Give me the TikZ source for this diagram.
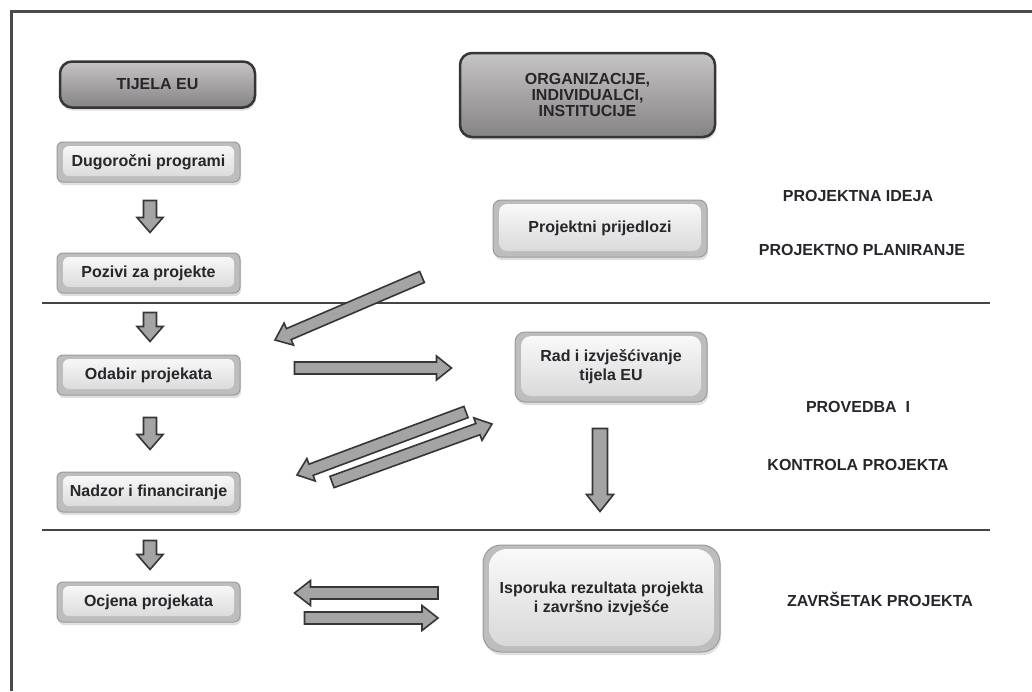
\documentclass[tikz,border=0pt]{standalone}
\usepackage{fontspec}
\setmainfont{Liberation Sans}
\usetikzlibrary{calc,shadows}
\definecolor{txt}{HTML}{28252B}
\definecolor{framec}{HTML}{4A4A4A}
\definecolor{arrfill}{HTML}{A4A4A4}
\definecolor{arrdraw}{HTML}{363636}
\definecolor{hdtop}{HTML}{C6C4C4}
\definecolor{hdbot}{HTML}{858383}
\definecolor{lbdraw}{HTML}{9A9A9A}
\definecolor{lbfill}{HTML}{BDBDBD}
\definecolor{lbtop}{HTML}{FBFBFB}
\definecolor{lbbot}{HTML}{D6D6D6}
\definecolor{divc}{HTML}{444444}
\newcommand\blockarr[5]{%
  \coordinate (bah) at ($(#2)!#5!(#1)$);
  \draw[blockarrow] ($(#1)!#3!90:(#2)$) -- ($(bah)!#3!90:(#2)$) -- ($(bah)!#4!90:(#2)$) -- (#2)
    -- ($(bah)!#4!-90:(#2)$) -- ($(bah)!#3!-90:(#2)$) -- ($(#1)!#3!-90:(#2)$) -- cycle;}
\begin{document}
\begin{tikzpicture}[x=1pt,y=-1pt,
  txtfont/.style={font=\fontsize{16}{16}\selectfont\bfseries, text=txt},
  header/.style={txtfont, align=center, rounded corners=12pt, draw=arrdraw, line width=2.5pt,
    top color=hdtop, bottom color=hdbot, inner sep=0pt,
    drop shadow={shadow xshift=1pt, shadow yshift=-3pt, opacity=0.25, fill=gray}},
  lightbox/.style={txtfont, align=center, rounded corners=#1, draw=lbdraw, line width=1pt,
    fill=lbfill, inner sep=0pt,
    drop shadow={shadow xshift=1pt, shadow yshift=-3pt, opacity=0.25, fill=gray},
    path picture={\fill[rounded corners=#1, top color=lbtop, bottom color=lbbot]
      ([shift={(6pt,-4pt)}]path picture bounding box.north west) rectangle
      ([shift={(-6pt,6pt)}]path picture bounding box.south east);}},
  lightbox/.default=6pt,
  phase/.style={txtfont, inner sep=0pt},
  blockarrow/.style={fill=arrfill, draw=arrdraw, line width=1.6pt, line join=miter},
  frameline/.style={draw=framec, line width=3pt},
  divider/.style={draw=divc, line width=2pt}]
\useasboundingbox (0,0) rectangle (1032,691);
\fill[white] (0,0) rectangle (1032,691);
% frame
\draw[frameline] (11,691) -- (11,11) -- (1032,11);
% dividers
\coordinate (d1a) at (42,303); \coordinate (d1b) at (990,303);
\coordinate (d2a) at (42,530); \coordinate (d2b) at (990,530);
\draw[divider] (d1a) -- (d1b);
\draw[divider] (d2a) -- (d2b);
% header boxes
\node[header, minimum width=195, minimum height=46] (tijela) at (157.5,84.5) {TIJELA EU};
\node[header, minimum width=255, minimum height=84] (org) at (587.5,95)
  {ORGANIZACIJE,\\INDIVIDUALCI,\\INSTITUCIJE};
% left column
\node[lightbox, minimum width=183, minimum height=40] (dug) at (148.5,162) {Dugoročni programi};
\node[lightbox, minimum width=183, minimum height=40] (poz) at (148.5,273) {Pozivi za projekte};
\node[lightbox, minimum width=183, minimum height=40] (odb) at (148.5,375) {Odabir projekata};
\node[lightbox, minimum width=183, minimum height=40] (nad) at (148.5,492) {Nadzor i financiranje};
\node[lightbox, minimum width=183, minimum height=40] (ocj) at (148.5,602) {Ocjena projekata};
% right column
\node[lightbox=8pt, minimum width=214, minimum height=57] (prij) at (600,228.5) {Projektni prijedlozi};
\node[lightbox=10pt, minimum width=192, minimum height=70, font=\fontsize{16}{19}\selectfont\bfseries]
  (rad) at (611,367) {Rad i izvješćivanje\\tijela EU};
\node[lightbox=18pt, minimum width=237, minimum height=107, font=\fontsize{16}{19}\selectfont\bfseries]
  (isp) at (601.5,598.5) {Isporuka rezultata projekta\\i završno izvješće};
% phase labels
\node[phase] (ideja) at (858,196) {PROJEKTNA IDEJA};
\node[phase] (plan) at (862,250) {PROJEKTNO PLANIRANJE};
\node[phase] (prov) at (858,407) {PROVEDBA\ \ I};
\node[phase] (kontr) at (858,465) {KONTROLA PROJEKTA};
\node[phase] (zav) at (880,599) {ZAVRŠETAK PROJEKTA};
% arrow end points
\coordinate (a1s) at ($(dug.south)+(1.5,18)$);  \coordinate (a1e) at ($(poz.north)+(1.5,-20)$);
\coordinate (a2s) at ($(poz.south)+(1.5,19)$);  \coordinate (a2e) at ($(odb.north)+(1.5,-13)$);
\coordinate (a3s) at ($(odb.south)+(1.5,22)$);  \coordinate (a3e) at ($(nad.north)+(1.5,-22)$);
\coordinate (a4s) at ($(nad.south)+(1.5,28)$);  \coordinate (a4e) at ($(ocj.north)+(1.5,-12)$);
\coordinate (a5s) at (422,277); \coordinate (a5e) at (275,340);
\coordinate (a6s) at ($(odb.east)+(54,-7)$); \coordinate (a6e) at ($(rad.west)+(-63,1)$);
\coordinate (a7s) at (466,412); \coordinate (a7e) at (297,475);
\coordinate (a8s) at (332,482); \coordinate (a8e) at (492,424);
\coordinate (a9s) at ($(rad.south)+(-11,26)$); \coordinate (a9e) at ($(isp.north)+(-1.5,-33)$);
\coordinate (a10s) at (438,593); \coordinate (a10e) at ($(ocj.east)+(54,-9)$);
\coordinate (a11s) at ($(ocj.east)+(64,16)$); \coordinate (a11e) at (438,618);
% block arrows
\blockarr{a1s}{a1e}{6.5pt}{13pt}{15pt}
\blockarr{a2s}{a2e}{6.5pt}{13pt}{15pt}
\blockarr{a3s}{a3e}{6.5pt}{13pt}{15pt}
\blockarr{a4s}{a4e}{6.5pt}{13pt}{15pt}
\blockarr{a5s}{a5e}{6pt}{12pt}{15pt}
\blockarr{a6s}{a6e}{6pt}{12pt}{15pt}
\blockarr{a7s}{a7e}{6pt}{12pt}{15pt}
\blockarr{a8s}{a8e}{6pt}{12pt}{15pt}
\blockarr{a9s}{a9e}{7.5pt}{13.5pt}{17pt}
\blockarr{a10s}{a10e}{6pt}{12.5pt}{16pt}
\blockarr{a11s}{a11e}{6pt}{12.5pt}{16pt}
\end{tikzpicture}
\end{document}
